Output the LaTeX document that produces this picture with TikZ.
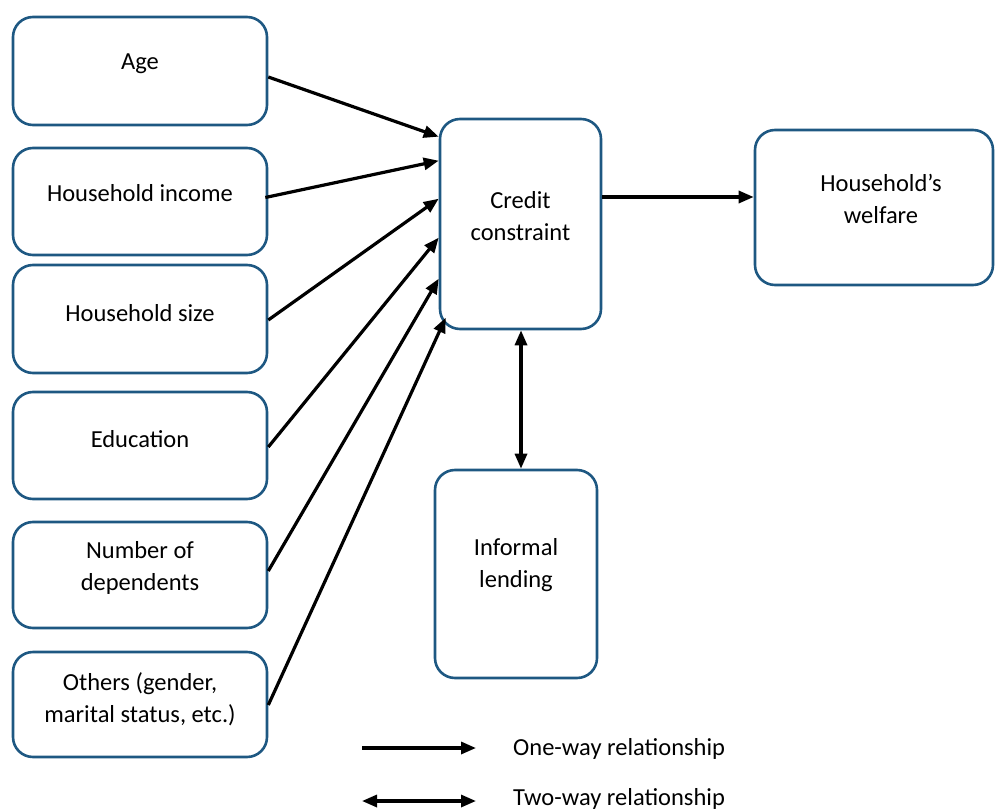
\documentclass[tikz,border=0pt]{standalone}
\usepackage{fontspec}
\setmainfont{Carlito}
\usetikzlibrary{arrows.meta,calc}
\definecolor{boxblue}{RGB}{30,88,130}
\begin{document}
\begin{tikzpicture}[x=1pt,y=-1pt,
  box/.style={draw=boxblue,line width=2.6pt,rounded corners=20pt,inner sep=0pt},
  lbl/.style={font=\fontsize{24.5}{32}\selectfont,align=center,inner sep=0pt},
  arr/.style={line width=3.2pt,-{Triangle[length=15pt,width=12pt]}},
  darr/.style={line width=3.2pt,{Triangle[length=15pt,width=12pt]}-{Triangle[length=15pt,width=12pt]}}]
\useasboundingbox (0,0) rectangle (995,810);
% left column boxes
\node[box,minimum width=254pt,minimum height=108pt] (age) at (140,71) {};
\node[box,minimum width=254pt,minimum height=107pt] (inc) at (140,201.5) {};
\node[box,minimum width=254pt,minimum height=108pt] (size) at (140,319) {};
\node[box,minimum width=254pt,minimum height=107pt] (edu) at (140,445.5) {};
\node[box,minimum width=254pt,minimum height=106pt] (dep) at (140,575) {};
\node[box,minimum width=254pt,minimum height=105pt] (oth) at (140,704.5) {};
\node[lbl] (tage) at (140,64) {Age};
\node[lbl] (tinc) at (140,193) {Household income};
\node[lbl] (tsize) at (140,313) {Household size};
\node[lbl] (tedu) at (140,439) {Education};
\node[lbl] (tdep) at (140,568) {Number of\\dependents};
\node[lbl] (toth) at (140,699) {Others (gender,\\marital status, etc.)};
% centre boxes
\node[box,minimum width=161pt,minimum height=210pt] (cc) at (520.5,224) {};
\node[lbl] (tcc) at (520.5,216) {Credit\\constraint};
\node[box,minimum width=162pt,minimum height=208pt] (inf) at (516,574) {};
\node[lbl] (tinf) at (516,565) {Informal\\lending};
\node[box,minimum width=238pt,minimum height=155pt] (wel) at (874,207.5) {};
\node[lbl] (twel) at (881,199) {Household’s\\welfare};
% arrows
\draw[arr] ($(age.east)+(0,6)$) -- ($(cc.north west)+(0,19)$);
\draw[arr] ($(inc.east)+(-3,-4)$) -- ($(cc.north west)+(0,43)$);
\draw[arr] ($(size.east)+(0,1)$) -- ($(cc.north west)+(0,81)$);
\draw[arr] ($(edu.east)+(0,1.5)$) -- ($(cc.north west)+(0,120)$);
\draw[arr] ($(dep.east)+(0,-4)$) -- ($(cc.north west)+(0,161)$);
\draw[arr] ($(oth.east)+(0,0.5)$) -- ($(cc.north west)+(7,200)$);
\draw[arr] (cc.east |- 0,197) -- (wel.west |- 0,197);
\draw[darr] (cc.south -| 521,0) -- (inf.north -| 521,0);
% legend
\coordinate (l1a) at (362,748);
\coordinate (l1b) at (476,748);
\coordinate (l2a) at (362,801);
\coordinate (l2b) at (476,801);
\draw[arr] (l1a) -- (l1b);
\draw[darr] (l2a) -- (l2b);
\node[lbl,anchor=west] (lt1) at (513,749) {One-way relationship};
\node[lbl,anchor=west] (lt2) at (513,799) {Two-way relationship};
\end{tikzpicture}
\end{document}
